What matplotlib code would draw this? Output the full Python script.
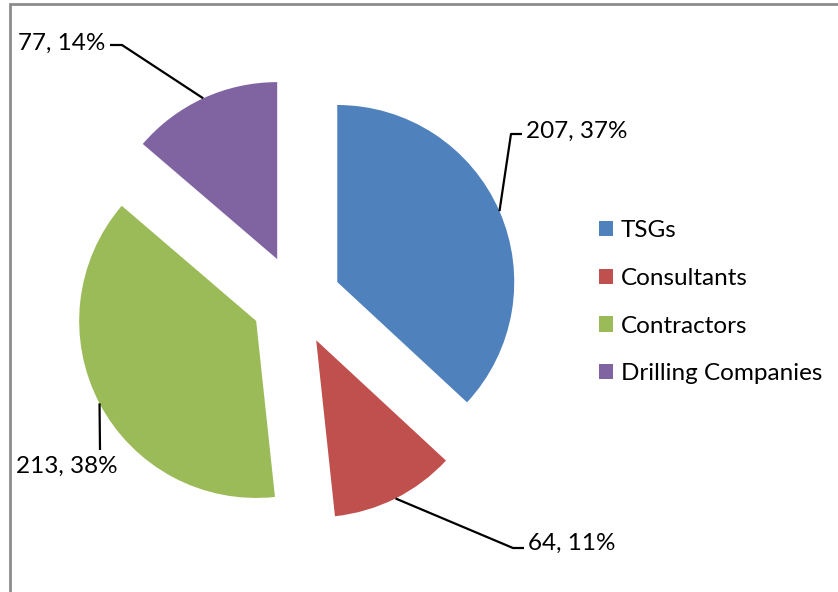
import numpy as np
import matplotlib
matplotlib.use("Agg")
import matplotlib.pyplot as plt
from matplotlib.patches import Rectangle

# data
categories = ["TSGs", "Consultants", "Contractors", "Drilling Companies"]
counts = [207, 64, 213, 77]
colors = ["#4F81BD", "#C0504D", "#9BBB59", "#8064A2"]

W, H = 838, 592
plt.rcParams['font.family'] = ['Lato', 'DejaVu Sans']
FS = 17.5

fig = plt.figure(figsize=(W / 100, H / 100), dpi=100)
ax = fig.add_axes([0, 0, 1, 1])

def fy(y):
    # image-pixel y (top down) -> data y
    return H - y

center = (296, fy(300))
radius = 177
gap = 45

wedges, _ = ax.pie(counts, colors=colors, startangle=90, counterclock=False,
                   radius=radius, center=center, explode=[gap] * len(counts),
                   wedgeprops=dict(linewidth=0))
ax.set_xlim(0, W)
ax.set_ylim(0, H)
ax.set_aspect('equal')
ax.axis('off')

# leader line layout: (elbow, end, text pos, ha, va) in image pixels
layout = [
    ((511, 134), (522, 134), (526, 131), 'left', 'center'),
    ((513, 548), (524, 548), (528, 543), 'left', 'center'),
    ((100, 450), (100, 450), (67, 456), 'center', 'top'),
    ((122, 45), (110, 45), (105, 43), 'right', 'center'),
]
total = sum(counts)
for w, n, (elb, end, tp, ha, va) in zip(wedges, counts, layout):
    cx, cy = w.center
    mid = np.deg2rad((w.theta1 + w.theta2) / 2)
    ax_x = cx + w.r * np.cos(mid)
    ax_y = cy + w.r * np.sin(mid)
    ax.plot([ax_x, elb[0], end[0]], [ax_y, fy(elb[1]), fy(end[1])],
            color='black', lw=1.6, solid_capstyle='butt')
    ax.text(tp[0], fy(tp[1]), f"{n}, {round(100 * n / total)}%",
            ha=ha, va=va, fontsize=FS, color='black')

leg = ax.legend(wedges, categories, loc='upper left',
                bbox_to_anchor=(587 / W, 1 - 208 / H), frameon=False,
                fontsize=FS, handlelength=0.58, handleheight=0.58,
                handletextpad=0.3, labelspacing=1.1, borderpad=0)

# chart border (gray frame, cut off on right and bottom)
fig.patches.append(Rectangle((10 / W, -0.1), 1.2, 1 - 4 / H + 0.1,
                             transform=fig.transFigure, fill=False,
                             edgecolor='#8c8c8c', lw=2))

fig.savefig("out.png", dpi=100)
